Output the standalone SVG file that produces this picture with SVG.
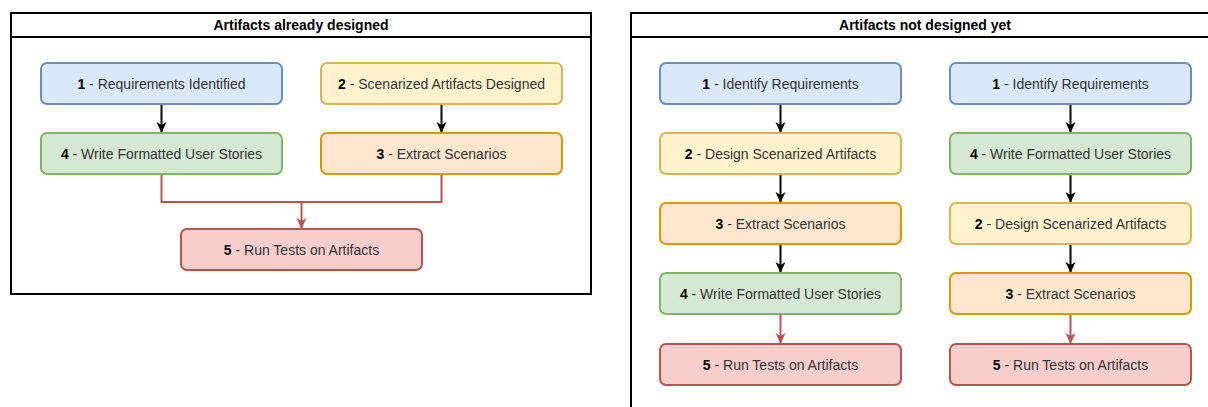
<svg xmlns="http://www.w3.org/2000/svg" width="1208" height="407" viewBox="0 0 1208 407">
<defs>
<marker id="ab" markerWidth="12" markerHeight="12" refX="11" refY="6" orient="auto" markerUnits="userSpaceOnUse"><path d="M0,1 L11,6 L0,11 L3,6 Z" fill="#000"/></marker>
<marker id="ar" markerWidth="12" markerHeight="12" refX="11" refY="6" orient="auto" markerUnits="userSpaceOnUse"><path d="M0,1 L11,6 L0,11 L3,6 Z" fill="#b85450"/></marker>
</defs>
<style>
text{font-family:"Liberation Sans",Arial,sans-serif;font-size:14px;fill:#333;text-anchor:middle}
.t{font-weight:bold;fill:#000}
.b{font-weight:bold;fill:#000}
.box{stroke-width:2}
.blue{fill:#dae8fc;stroke:#6c8ebf}
.yel{fill:#fff2cc;stroke:#d6b656}
.grn{fill:#d5e8d4;stroke:#82b366}
.org{fill:#ffe6cc;stroke:#d79b00}
.red{fill:#f8cecc;stroke:#b85450}
.cont{fill:#fff;stroke:#000;stroke-width:2}
.k{stroke:#000;stroke-width:2;fill:none;marker-end:url(#ab)}
.r{stroke:#b85450;stroke-width:2;fill:none;marker-end:url(#ar)}
.rl{stroke:#b85450;stroke-width:2;fill:none}
</style>
<rect width="1208" height="407" fill="#fff"/>
<g id="container-left">
<rect class="cont" x="11" y="13" width="580" height="281"/>
<line x1="11" y1="37" x2="591" y2="37" stroke="#000" stroke-width="2"/>
<text class="t" x="301" y="30">Artifacts already designed</text>
</g>
<g id="container-right">
<rect class="cont" x="631" y="13" width="588" height="410"/>
<line x1="631" y1="37" x2="1219" y2="37" stroke="#000" stroke-width="2"/>
<text class="t" x="925" y="30">Artifacts not designed yet</text>
</g>
<g id="connectors">
<line class="k" x1="161.5" y1="104" x2="161.5" y2="133"/>
<line class="k" x1="441.5" y1="104" x2="441.5" y2="133"/>
<path class="rl" d="M161.5,174 V202 H441.5 V174"/>
<line class="r" x1="301.5" y1="202" x2="301.5" y2="229"/>
<line class="k" x1="780.5" y1="104" x2="780.5" y2="133"/>
<line class="k" x1="780.5" y1="174" x2="780.5" y2="203"/>
<line class="k" x1="780.5" y1="244" x2="780.5" y2="273"/>
<line class="r" x1="780.5" y1="314" x2="780.5" y2="344"/>
<line class="k" x1="1070.5" y1="104" x2="1070.5" y2="133"/>
<line class="k" x1="1070.5" y1="174" x2="1070.5" y2="203"/>
<line class="k" x1="1070.5" y1="244" x2="1070.5" y2="273"/>
<line class="r" x1="1070.5" y1="314" x2="1070.5" y2="344"/>
</g>
<g id="L1"><rect class="box blue" x="41" y="63" width="241" height="41" rx="6"/><text x="161.5" y="89"><tspan class="b">1</tspan> - Requirements Identified</text></g>
<g id="L2"><rect class="box yel" x="321" y="63" width="241" height="41" rx="6"/><text x="441.5" y="89"><tspan class="b">2</tspan> - Scenarized Artifacts Designed</text></g>
<g id="L4"><rect class="box grn" x="41" y="133" width="241" height="41" rx="6"/><text x="161.5" y="159"><tspan class="b">4</tspan> - Write Formatted User Stories</text></g>
<g id="L3"><rect class="box org" x="321" y="133" width="241" height="41" rx="6"/><text x="441.5" y="159"><tspan class="b">3</tspan> - Extract Scenarios</text></g>
<g id="L5"><rect class="box red" x="181" y="229" width="241" height="41" rx="6"/><text x="301.5" y="255"><tspan class="b">5</tspan> - Run Tests on Artifacts</text></g>
<g id="A1"><rect class="box blue" x="660" y="63" width="241" height="41" rx="6"/><text x="780.5" y="89"><tspan class="b">1</tspan> - Identify Requirements</text></g>
<g id="A2"><rect class="box yel" x="660" y="133" width="241" height="41" rx="6"/><text x="780.5" y="159"><tspan class="b">2</tspan> - Design Scenarized Artifacts</text></g>
<g id="A3"><rect class="box org" x="660" y="203" width="241" height="41" rx="6"/><text x="780.5" y="229"><tspan class="b">3</tspan> - Extract Scenarios</text></g>
<g id="A4"><rect class="box grn" x="660" y="273" width="241" height="41" rx="6"/><text x="780.5" y="299"><tspan class="b">4</tspan> - Write Formatted User Stories</text></g>
<g id="A5"><rect class="box red" x="660" y="344" width="241" height="41" rx="6"/><text x="780.5" y="370"><tspan class="b">5</tspan> - Run Tests on Artifacts</text></g>
<g id="B1"><rect class="box blue" x="950" y="63" width="241" height="41" rx="6"/><text x="1070.5" y="89"><tspan class="b">1</tspan> - Identify Requirements</text></g>
<g id="B4"><rect class="box grn" x="950" y="133" width="241" height="41" rx="6"/><text x="1070.5" y="159"><tspan class="b">4</tspan> - Write Formatted User Stories</text></g>
<g id="B2"><rect class="box yel" x="950" y="203" width="241" height="41" rx="6"/><text x="1070.5" y="229"><tspan class="b">2</tspan> - Design Scenarized Artifacts</text></g>
<g id="B3"><rect class="box org" x="950" y="273" width="241" height="41" rx="6"/><text x="1070.5" y="299"><tspan class="b">3</tspan> - Extract Scenarios</text></g>
<g id="B5"><rect class="box red" x="950" y="344" width="241" height="41" rx="6"/><text x="1070.5" y="370"><tspan class="b">5</tspan> - Run Tests on Artifacts</text></g>
</svg>
